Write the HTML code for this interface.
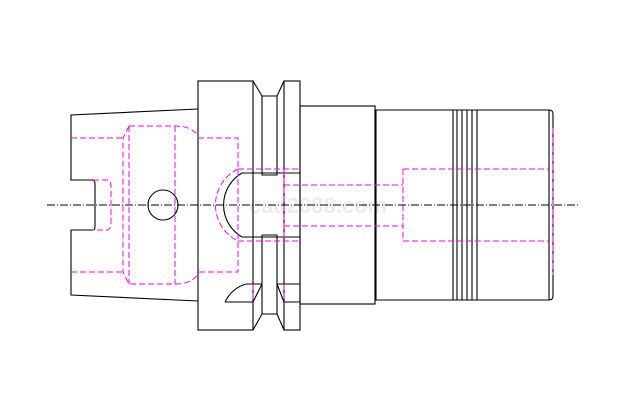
<!DOCTYPE html>
<html><head><meta charset="utf-8"><style>html,body{margin:0;padding:0;background:#fff}svg{display:block}</style></head>
<body>
<svg width="633" height="410" viewBox="0 0 633 410" xmlns="http://www.w3.org/2000/svg">
<text x="318" y="213" font-family="Liberation Sans, sans-serif" font-size="22" font-weight="bold" fill="#ececec" text-anchor="middle">cad2688.com</text>
<g fill="none" stroke="#000" stroke-width="1.1">
<path d="M198,109 L71,115 L71,180 L93,180 Q95,181 95,184 L95,226 Q95,230 93,230 L71,230 L71,295 L198,301"/>
<circle cx="163" cy="205" r="15"/>
<rect x="198" y="81" width="55" height="249"/>
<path d="M253,81 L262,96 L277,96 L284,81"/>
<rect x="284" y="81" width="16" height="249"/>
<path d="M262,96 L262,175 L277,175 L277,96"/>
<path d="M262,235 L262,284 M277,235 L277,284 M262,235 L277,235"/>
<path d="M300,173 L242,173 A37,37 0 0 0 242,237 L300,237"/>
<path d="M246,284 L262,284 M277,284 L300,284 M225,302 L253,302 M284,302 L300,302"/>
<path d="M225,302 Q232,288 246,284"/>
<path d="M262,284 L253,302 M277,284 L284,302"/>
<path d="M262,284 L262,314 L277,314 L277,284"/>
<path d="M262,314 L253,330 M277,314 L284,330"/>
<rect x="300" y="106" width="75" height="198"/>
<path d="M376,110 L549,110 Q553,110 553,114 L553,296 Q553,300 549,300 L376,300 Z"/>
<path d="M549,110 L549,300"/>
<path d="M453,110V300M457,110V300M462,110V300M467,110V300M472,110V300M477,110V300"/>
</g>
<g fill="none" stroke="#f0f" stroke-width="1" stroke-dasharray="6,3">
<path d="M71,138 L123,138 M71,272 L123,272"/>
<path d="M129,126 L123,138 L123,272 L129,284 L175,284 Q192,284 198,274"/>
<path d="M129,126 L175,126 Q192,126 198,136"/>
<path d="M129,126 L129,284 M175,126 L175,284"/>
<path d="M93,180 L108,180 Q111,182 111,186 L111,224 Q111,228 108,230 L93,230"/>
<path d="M198,138 L238,138 L238,272 L198,272"/>
<path d="M238,169 L300,169 M238,241 L300,241"/>
<path d="M238,169 A40,40 0 0 0 238,241" />
<path d="M284,169 L284,241 M284,185 L403,185 M284,226 L403,226"/>
<path d="M253,284 L253,302 M284,284 L284,302"/>
<path d="M403,169 L549,169 M403,241 L549,241 M403,169 L403,241"/>
<path d="M553,128 L553,275"/>
</g>
<path d="M47,205 L578,205" stroke="#000" stroke-width="1" stroke-dasharray="8,2,1,2" fill="none"/>
</svg>
</body></html>
